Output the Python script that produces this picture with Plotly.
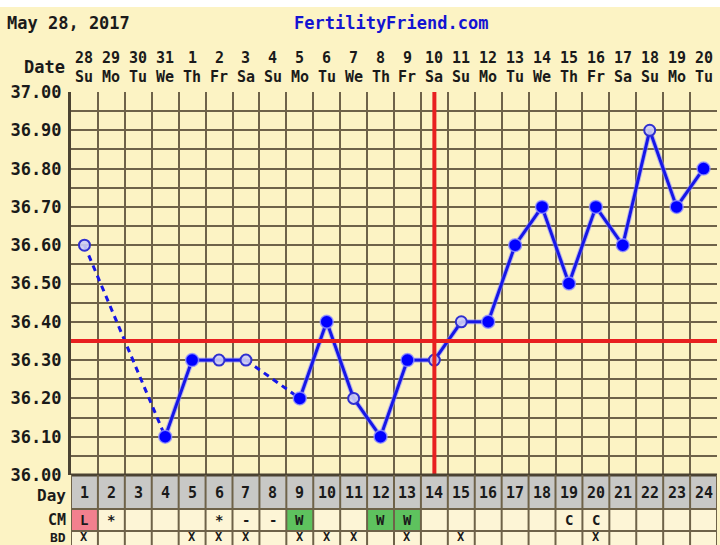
import plotly.graph_objects as go

# ---------------- data ----------------
days = list(range(1, 25))
dates = ["28", "29", "30", "31", "1", "2", "3", "4", "5", "6", "7", "8",
         "9", "10", "11", "12", "13", "14", "15", "16", "17", "18", "19", "20"]
weekdays = ["Su", "Mo", "Tu", "We", "Th", "Fr", "Sa", "Su", "Mo", "Tu", "We", "Th",
            "Fr", "Sa", "Su", "Mo", "Tu", "We", "Th", "Fr", "Sa", "Su", "Mo", "Tu"]
temps = [36.60, None, None, 36.10, 36.30, 36.30, 36.30, None, 36.20, 36.40, 36.20, 36.10,
         36.30, 36.30, 36.40, 36.40, 36.60, 36.70, 36.50, 36.70, 36.60, 36.90, 36.70, 36.80]
open_pts = [1, 0, 0, 0, 0, 1, 1, 0, 0, 0, 1, 0,
            0, 1, 1, 0, 0, 0, 0, 0, 0, 1, 0, 0]
cm = ["L", "*", "", "", "", "*", "-", "-", "W", "", "", "W",
      "W", "", "", "", "", "", "C", "C", "", "", "", ""]
bd = ["X", "", "", "", "X", "X", "X", "", "X", "X", "X", "",
      "X", "", "X", "", "", "", "", "X", "", "", "", ""]
ytick_vals = [round(36.0 + 0.05 * i, 2) for i in range(21)]
ytick_text = [f"{v:.2f}" if i % 2 == 0 else "" for i, v in enumerate(ytick_vals)]
coverline = 36.35
ovulation_day = 14
header_date = "May 28, 2017"
site = "FertilityFriend.com"

# ---------------- geometry / style ----------------
W, H = 720, 545
def py(pix):
    return (H - pix) / H

X0, X1 = 71, 717
Y_TOP, Y_BOT = 92, 475
FONT = "DejaVu Sans Mono"
BG = "#FCF3C4"
GRID = "#6E6249"
BLUE = "#1616E8"
TXT = "#1a1a1a"

fig = go.Figure()

# solid segments between consecutive recorded days
solid_x, solid_y = [], []
for i in range(len(days) - 1):
    if temps[i] is not None and temps[i + 1] is not None:
        solid_x += [days[i], days[i + 1], None]
        solid_y += [temps[i], temps[i + 1], None]
# dashed segments across gaps
dash_x, dash_y = [], []
rec = [i for i, t in enumerate(temps) if t is not None]
for a, b in zip(rec[:-1], rec[1:]):
    if b - a > 1:
        dash_x += [days[a], days[b], None]
        dash_y += [temps[a], temps[b], None]

fig.add_trace(go.Scatter(x=solid_x, y=solid_y, mode="lines",
                         line=dict(color="rgba(140,140,255,0.6)", width=5),
                         hoverinfo="skip", showlegend=False))
fig.add_trace(go.Scatter(x=solid_x, y=solid_y, mode="lines",
                         line=dict(color=BLUE, width=3), showlegend=False))
fig.add_trace(go.Scatter(x=dash_x, y=dash_y, mode="lines",
                         line=dict(color=BLUE, width=3, dash="6px,5px"),
                         showlegend=False))

fx = [d for d, t, o in zip(days, temps, open_pts) if t is not None and not o]
fy = [t for t, o in zip(temps, open_pts) if t is not None and not o]
ox = [d for d, t, o in zip(days, temps, open_pts) if t is not None and o]
oy = [t for t, o in zip(temps, open_pts) if t is not None and o]
fig.add_trace(go.Scatter(x=fx, y=fy, mode="markers",
                         marker=dict(size=13, color="#0000FF",
                                     line=dict(color="rgba(150,150,255,0.8)", width=1.5)),
                         showlegend=False))
fig.add_trace(go.Scatter(x=ox, y=oy, mode="markers",
                         marker=dict(size=11, color="rgba(205,205,245,0.9)",
                                     line=dict(color="#3030D0", width=2)),
                         showlegend=False))

shapes = []
# coverline and ovulation line
shapes.append(dict(type="line", xref="x", yref="y", x0=0.5, x1=24.5,
                   y0=coverline, y1=coverline, line=dict(color="#E82020", width=4), layer="above"))
shapes.append(dict(type="line", xref="x", yref="y", x0=ovulation_day, x1=ovulation_day,
                   y0=36.0, y1=37.0, line=dict(color="#E82020", width=4), layer="above"))

# table rows
ROW_DAY = (475, 509)
ROW_CM = (509, 531)
ROW_BD = (531, 560)
shapes.append(dict(type="rect", xref="x", yref="paper", x0=0.5, x1=24.5,
                   y0=py(ROW_DAY[1]), y1=py(ROW_DAY[0]), fillcolor="#C8C8C6",
                   line=dict(width=0), layer="below"))
shapes.append(dict(type="rect", xref="x", yref="paper", x0=0.5, x1=24.5,
                   y0=py(ROW_BD[1]), y1=py(ROW_CM[0]), fillcolor="#FDF5D6",
                   line=dict(width=0), layer="below"))
for d, c in zip(days, cm):
    col = {"L": "#F2808E", "W": "#5EC25E"}.get(c)
    if col:
        shapes.append(dict(type="rect", xref="x", yref="paper", x0=d - 0.5, x1=d + 0.5,
                           y0=py(ROW_CM[1]), y1=py(ROW_CM[0]), fillcolor=col,
                           line=dict(width=0), layer="below"))
for ypx in [ROW_DAY[1], ROW_CM[1]]:
    shapes.append(dict(type="line", xref="x", yref="paper", x0=0.5, x1=24.5,
                       y0=py(ypx), y1=py(ypx), line=dict(color=GRID, width=2)))
shapes.append(dict(type="line", xref="x", yref="paper", x0=0.5, x1=24.5,
                   y0=py(Y_BOT), y1=py(Y_BOT), line=dict(color="#4a4232", width=3)))
for d in days + [25]:
    shapes.append(dict(type="line", xref="x", yref="paper", x0=d - 0.5, x1=d - 0.5,
                       y0=0, y1=py(Y_BOT), line=dict(color=GRID, width=2)))
# white strip at top
shapes.append(dict(type="rect", xref="paper", yref="paper", x0=0, x1=1,
                   y0=py(7), y1=1, fillcolor="white", line=dict(width=0), layer="below"))

annotations = []
annotations.append(dict(text=header_date, x=5 / W, y=py(23), xref="paper", yref="paper",
                        showarrow=False, xanchor="left", yanchor="middle",
                        font=dict(family=FONT, size=17, color=TXT, weight="bold")))
annotations.append(dict(text=site, x=391 / W, y=py(23), xref="paper", yref="paper",
                        showarrow=False, xanchor="center", yanchor="middle",
                        font=dict(family=FONT, size=17, color="#1414D2", weight="bold")))
annotations.append(dict(text="Date", x=67 / W, y=py(67), xref="paper", yref="paper",
                        showarrow=False, xanchor="right", yanchor="middle",
                        font=dict(family=FONT, size=17, color=TXT, weight="bold")))
for lbl, ypx, fs in [("Day", 495, 16), ("CM", 520, 15), ("BD", 537, 13)]:
    annotations.append(dict(text=lbl, x=67 / W, y=py(ypx), xref="paper", yref="paper",
                            showarrow=False, xanchor="right", yanchor="middle", borderpad=0,
                            font=dict(family=FONT, size=fs, color=TXT, weight="bold")))
for d, dt, wd, c, b in zip(days, dates, weekdays, cm, bd):
    annotations.append(dict(text=dt, x=d, y=py(58), xref="x", yref="paper", showarrow=False,
                            yanchor="middle", borderpad=0,
                            font=dict(family=FONT, size=15, color=TXT, weight="bold")))
    annotations.append(dict(text=wd, x=d, y=py(77), xref="x", yref="paper", showarrow=False,
                            yanchor="middle", borderpad=0,
                            font=dict(family=FONT, size=15, color=TXT, weight="bold")))
    annotations.append(dict(text=str(d), x=d, y=py(493), xref="x", yref="paper", showarrow=False,
                            yanchor="middle", borderpad=0,
                            font=dict(family=FONT, size=15, color=TXT, weight="bold")))
    if c:
        annotations.append(dict(text=c, x=d, y=py(520), xref="x", yref="paper", showarrow=False,
                                yanchor="middle", borderpad=0,
                                font=dict(family=FONT, size=14, color=TXT, weight="bold")))
    if b:
        annotations.append(dict(text=b, x=d, y=py(537), xref="x", yref="paper", showarrow=False,
                                yanchor="middle", borderpad=0,
                                font=dict(family=FONT, size=12, color=TXT, weight="bold")))

fig.update_layout(
    width=W, height=H, margin=dict(l=0, r=0, t=0, b=0, autoexpand=False),
    paper_bgcolor=BG, plot_bgcolor=BG,
    shapes=shapes, annotations=annotations, showlegend=False,
    xaxis=dict(domain=[X0 / W, X1 / W], range=[0.5, 24.5],
               tickvals=[d - 0.5 for d in days] + [24.5], showticklabels=False,
               showgrid=True, gridcolor=GRID, gridwidth=2, zeroline=False,
               ticks="", fixedrange=True),
    yaxis=dict(domain=[py(Y_BOT), py(Y_TOP)], range=[36.0, 37.0],
               tickvals=ytick_vals, ticktext=ytick_text,
               showgrid=True, gridcolor=GRID, gridwidth=2, zeroline=False,
               showline=True, linecolor="#4a4232", linewidth=3,
               ticks="", ticklabelstandoff=3,
               tickfont=dict(family=FONT, size=17, color=TXT, weight="bold")),
)

fig.write_html("out.html")
